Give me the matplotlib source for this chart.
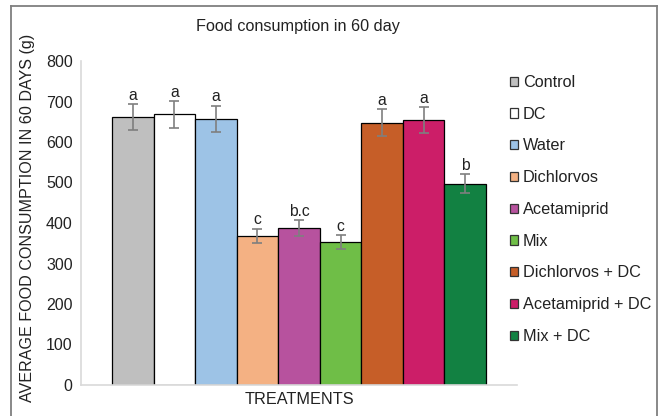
import matplotlib
matplotlib.use("Agg")
import matplotlib.pyplot as plt
from matplotlib.patches import Patch
from matplotlib.lines import Line2D

plt.rcParams['font.family'] = ['Liberation Sans', 'DejaVu Sans']

categories = ["Control", "DC", "Water", "Dichlorvos", "Acetamiprid", "Mix",
              "Dichlorvos + DC", "Acetamiprid + DC", "Mix + DC"]
values = [662, 668, 657, 368, 388, 353, 648, 655, 497]
errors = [32, 33, 33, 18, 20, 17, 33, 32, 24]
letters = ["a", "a", "a", "c", "b.c", "c", "a", "a", "b"]
colors = ["#bfbfbf", "#ffffff", "#9dc3e6", "#f4b183", "#b7529e", "#6fbe47",
          "#c65e28", "#cc1e68", "#128142"]
yticks = [0, 100, 200, 300, 400, 500, 600, 700, 800]

W, H = 659, 416
fig = plt.figure(figsize=(W / 100, H / 100), dpi=100)
ax = fig.add_axes([81 / W, 31 / H, (517 - 81) / W, (385 - 61) / H])

x = list(range(len(categories)))
ax.bar(x, values, width=1.0, color=colors, edgecolor="black", linewidth=0.9,
       yerr=errors, capsize=3.5,
       error_kw=dict(ecolor="#7f7f7f", elinewidth=1.2, capthick=1.2))
for xi, v, e, t in zip(x, values, errors, letters):
    ax.text(xi, v + e + 3, t, ha="center", va="bottom", fontsize=11.3, color="#222222")

ax.set_xlim(-1.245, 9.245)
ax.set_ylim(0, 800)
ax.set_yticks(yticks)
ax.set_yticklabels([str(t) for t in yticks], fontsize=11.5, color="#222222")
ax.set_xticks([])
ax.tick_params(axis="y", length=0, pad=6)
for s in ["top", "right"]:
    ax.spines[s].set_visible(False)
for s in ["left", "bottom"]:
    ax.spines[s].set_color("#d9d9d9")
    ax.spines[s].set_linewidth(1.2)

fig.text(298 / W, 1 - 26 / H, "Food consumption in 60 day", ha="center", va="center",
         fontsize=11.7, color="#222222")
fig.text(299 / W, 1 - 400 / H, "TREATMENTS", ha="center", va="center",
         fontsize=11.7, color="#222222")
fig.text(28 / W, 1 - 218 / H, "AVERAGE FOOD CONSUMPTION IN 60 DAYS (g)", ha="center",
         va="center", rotation=90, fontsize=11.6, color="#222222")

handles = [Patch(facecolor=c, edgecolor="#333333", linewidth=0.9) for c in colors]
leg = fig.legend(handles, categories, loc="upper left",
                 bbox_to_anchor=(510 / W, 1 - 75 / H), frameon=False,
                 fontsize=11.7, handlelength=0.5, handleheight=0.5,
                 handletextpad=0.28, labelspacing=1.03, borderaxespad=0,
                 borderpad=0)
for t in leg.get_texts():
    t.set_color("#222222")

# outer chart frame
fc = "#7f7f7f"
fig.add_artist(Line2D([11 / W, 11 / W], [0, 1 - 6 / H], color=fc, lw=1.3,
                      transform=fig.transFigure))
fig.add_artist(Line2D([11 / W, 657 / W], [1 - 6 / H, 1 - 6 / H], color=fc, lw=1.3,
                      transform=fig.transFigure))
fig.add_artist(Line2D([657 / W, 657 / W], [0, 1 - 6 / H], color=fc, lw=1.3,
                      transform=fig.transFigure))

fig.savefig("out.png", dpi=100)
